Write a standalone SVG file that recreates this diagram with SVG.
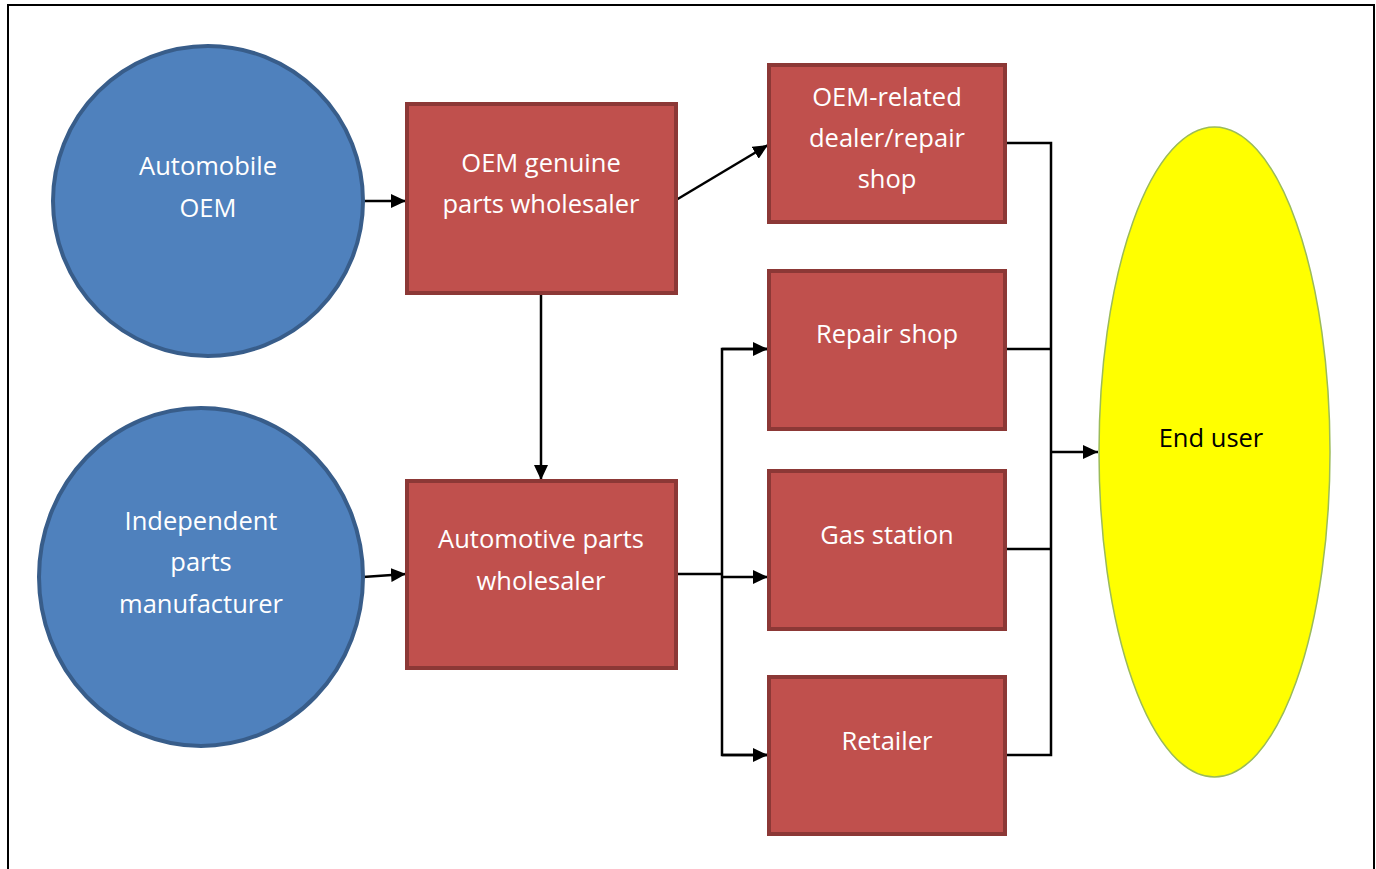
<svg xmlns="http://www.w3.org/2000/svg" width="1376" height="869" viewBox="0 0 1376 869">
<style>
.circ{fill:#4F81BD;stroke:#385D8A;stroke-width:4}
.box{fill:#C0504D;stroke:#8C3836;stroke-width:4}
.lbl{font-family:"Open Sans","Noto Sans",sans-serif;font-size:25.5px;fill:#FFFFFF;text-anchor:middle}
.blk{fill:#000000}
.con{fill:none;stroke:#000000;stroke-width:2.5}
</style>
<defs>
<marker id="ah" markerWidth="15" markerHeight="14" refX="15" refY="7" orient="auto" markerUnits="userSpaceOnUse" viewBox="0 0 15 14">
<path d="M0,0 L15,7 L0,14 Z" fill="#000"/>
</marker>
</defs>
<rect x="0" y="0" width="1376" height="869" fill="#FFFFFF"/>
<path d="M8,875 L8,5 L1374,5 L1374,875" fill="none" stroke="#000" stroke-width="2"/>
<g id="connectors">
<line class="con" x1="363" y1="201" x2="406" y2="201" marker-end="url(#ah)"/>
<line class="con" x1="676" y1="200" x2="768" y2="145" marker-end="url(#ah)"/>
<line class="con" x1="541" y1="293" x2="541" y2="480" marker-end="url(#ah)"/>
<line class="con" x1="363" y1="577" x2="406" y2="574" marker-end="url(#ah)"/>
<polyline class="con" points="676,574 722,574"/>
<polyline class="con" points="768,349 722,349 722,755 768,755"/>
<line class="con" x1="722" y1="349" x2="768" y2="349" marker-end="url(#ah)"/>
<line class="con" x1="722" y1="577" x2="768" y2="577" marker-end="url(#ah)"/>
<line class="con" x1="722" y1="755" x2="768" y2="755" marker-end="url(#ah)"/>
<polyline class="con" points="1005,143 1051,143 1051,755 1005,755"/>
<line class="con" x1="1005" y1="349" x2="1051" y2="349"/>
<line class="con" x1="1005" y1="549" x2="1051" y2="549"/>
<line class="con" x1="1051" y1="452" x2="1098" y2="452" marker-end="url(#ah)"/>
</g>
<g id="oem">
<circle class="circ" cx="208" cy="201" r="155"/>
<text class="lbl" x="208" y="175">Automobile</text>
<text class="lbl" x="208" y="217">OEM</text>
</g>
<g id="indep">
<ellipse class="circ" cx="201" cy="577" rx="162" ry="169"/>
<text class="lbl" x="201" y="530">Independent</text>
<text class="lbl" x="201" y="571">parts</text>
<text class="lbl" x="201" y="613">manufacturer</text>
</g>
<g id="genuine">
<rect class="box" x="407" y="104" width="269" height="189"/>
<text class="lbl" x="541" y="172">OEM genuine</text>
<text class="lbl" x="541" y="213">parts wholesaler</text>
</g>
<g id="apw">
<rect class="box" x="407" y="481" width="269" height="187"/>
<text class="lbl" x="541" y="548">Automotive parts</text>
<text class="lbl" x="541" y="590">wholesaler</text>
</g>
<g id="dealer">
<rect class="box" x="769" y="65" width="236" height="157"/>
<text class="lbl" x="887" y="106">OEM-related</text>
<text class="lbl" x="887" y="147">dealer/repair</text>
<text class="lbl" x="887" y="188">shop</text>
</g>
<g id="repair">
<rect class="box" x="769" y="271" width="236" height="158"/>
<text class="lbl" x="887" y="343">Repair shop</text>
</g>
<g id="gas">
<rect class="box" x="769" y="471" width="236" height="158"/>
<text class="lbl" x="887" y="544">Gas station</text>
</g>
<g id="retailer">
<rect class="box" x="769" y="677" width="236" height="157"/>
<text class="lbl" x="887" y="750">Retailer</text>
</g>
<g id="enduser">
<ellipse cx="1214.5" cy="452" rx="115.5" ry="325" fill="#FFFF00" stroke="#9BBB59" stroke-width="1.5"/>
<text class="lbl blk" x="1211" y="447">End user</text>
</g>
</svg>
